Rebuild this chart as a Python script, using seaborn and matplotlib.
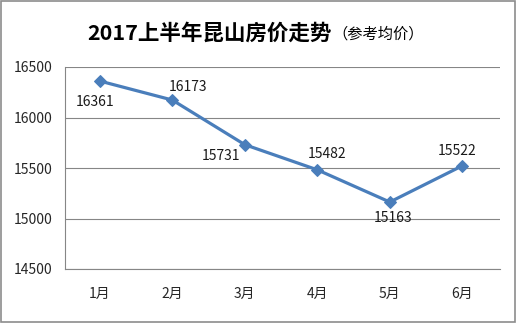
import matplotlib
matplotlib.use("Agg")
import matplotlib.pyplot as plt
import seaborn as sns
import pandas as pd
from matplotlib.patches import Rectangle

months = ["1月", "2月", "3月", "4月", "5月", "6月"]
prices = [16361, 16173, 15731, 15482, 15163, 15522]
yticks = [14500, 15000, 15500, 16000, 16500]
title_main = "2017上半年昆山房价走势"
title_sub = "（参考均价）"

sns.set_theme(style="white")
plt.rcParams['font.family'] = ['Noto Sans CJK SC', 'DejaVu Sans']

df = pd.DataFrame({"month": months, "price": prices})

fig = plt.figure(figsize=(5.16, 3.23), dpi=100)
ax = fig.add_axes([65/516, 1-269/323, 435/516, 202/323])

color = "#4A7EBB"
sns.lineplot(data=df, x="month", y="price", ax=ax, color=color, linewidth=2.3,
             marker="D", markersize=6, markeredgecolor=color, sort=False)

ax.set_xlim(-0.48, 5.52)
ax.set_ylim(14500, 16500)
ax.set_yticks(yticks)
ax.set_yticklabels([str(t) for t in yticks], fontsize=10)
ax.tick_params(axis='x', labelsize=10, pad=13, length=0)
ax.tick_params(axis='y', pad=9, length=0)
ax.set_xlabel("")
ax.set_ylabel("")
ax.grid(axis='y', color="#868686", linewidth=0.8)
for s in ["top", "right"]:
    ax.spines[s].set_visible(False)
for s in ["left", "bottom"]:
    ax.spines[s].set_color("#868686")
    ax.spines[s].set_linewidth(0.8)

# data labels (offsets in pixels)
offsets = [(-5, -21), (16, 13), (-24, -11), (10, 16), (3, -16), (-5, 15)]
for i, (v, (dx, dy)) in enumerate(zip(prices, offsets)):
    ax.annotate(str(v), (i, v), xytext=(dx * 0.72, dy * 0.72), textcoords="offset points",
                ha="center", va="center", fontsize=10, color="#1a1a1a")

fig.text(332/516, 1-33/323, title_main, ha="right", va="center", fontsize=15.5,
         fontweight="bold", color="black")
fig.text(332/516, 1-34/323, title_sub, ha="left", va="center", fontsize=11, color="black")

fig.patches.append(Rectangle((0.002, 0.003), 0.996, 0.994, transform=fig.transFigure,
                             fill=False, edgecolor="#8c8c8c", linewidth=1.2))

fig.savefig("out.png", dpi=100)
